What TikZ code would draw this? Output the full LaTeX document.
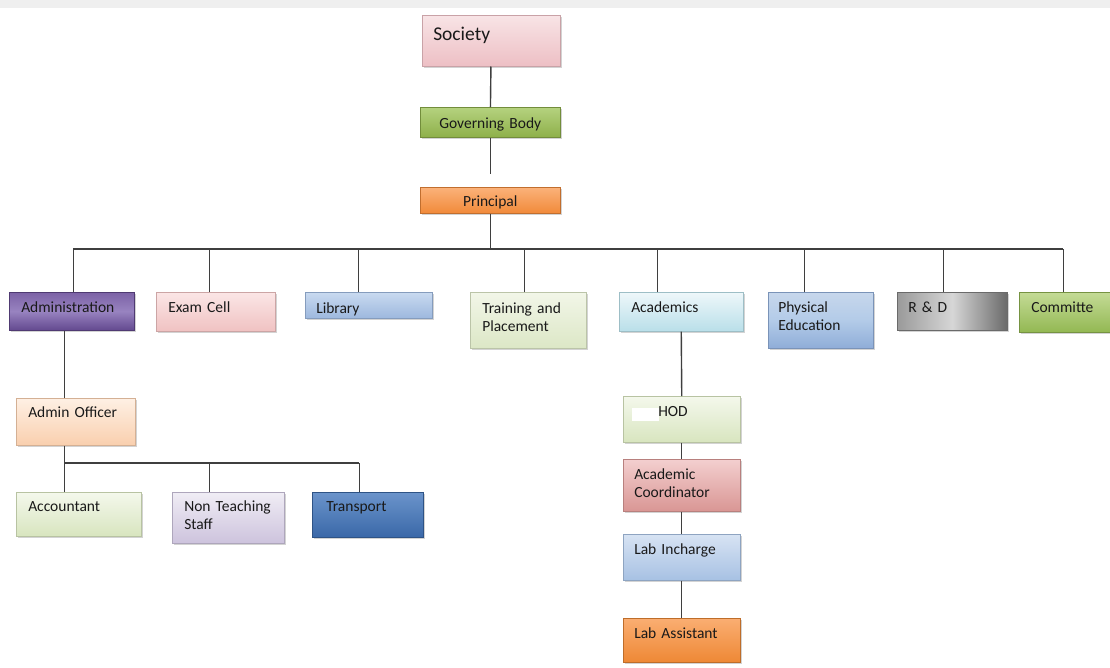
\documentclass[tikz,border=0pt]{standalone}
\usepackage{fontspec}
\setmainfont{Carlito}
\usetikzlibrary{shadows}

\definecolor{linegray}{HTML}{3F3F3F}
\definecolor{bandgray}{HTML}{EFEFEF}
\definecolor{socT}{HTML}{F8E4E6}\definecolor{socB}{HTML}{EDBFC4}
\definecolor{govT}{HTML}{B5D27F}\definecolor{govB}{HTML}{8EB04A}
\definecolor{priT}{HTML}{FBB27A}\definecolor{priB}{HTML}{F18A3A}
\definecolor{admT}{HTML}{7C62A6}\definecolor{admM}{HTML}{9883C0}\definecolor{admB}{HTML}{63498F}
\definecolor{exaT}{HTML}{FBE6E6}\definecolor{exaB}{HTML}{F0C2C2}
\definecolor{libT}{HTML}{C9DAF0}\definecolor{libB}{HTML}{9DB8DE}
\definecolor{trnT}{HTML}{F2F6E8}\definecolor{trnB}{HTML}{DCE7C6}
\definecolor{acaT}{HTML}{EEF7FA}\definecolor{acaB}{HTML}{B9DFE9}
\definecolor{phyT}{HTML}{C7D7EC}\definecolor{phyM}{HTML}{B3CBE8}\definecolor{phyB}{HTML}{8FADD8}
\definecolor{rndL}{HTML}{9A9A9A}\definecolor{rndM}{HTML}{D6D6D6}\definecolor{rndR}{HTML}{6A6A6A}
\definecolor{comT}{HTML}{C4DB96}\definecolor{comB}{HTML}{93B853}
\definecolor{aofT}{HTML}{FEF0E4}\definecolor{aofB}{HTML}{F9CFAE}
\definecolor{accT}{HTML}{F4F8EC}\definecolor{accB}{HTML}{D8E5BF}
\definecolor{ntsT}{HTML}{F0EDF5}\definecolor{ntsB}{HTML}{CDC3DD}
\definecolor{trsT}{HTML}{6B94CB}\definecolor{trsB}{HTML}{3A68A8}
\definecolor{acoT}{HTML}{F3CFCF}\definecolor{acoB}{HTML}{D99694}
\definecolor{labT}{HTML}{D7E3F3}\definecolor{labB}{HTML}{A7C1E3}
\definecolor{lasT}{HTML}{FAAE72}\definecolor{lasB}{HTML}{EE8835}

\begin{document}
\begin{tikzpicture}[x=1pt,y=-1pt,
  box/.style={anchor=north west, align=left, inner xsep=11pt, inner ysep=0pt,
    line width=.5pt, text=black!90, font=\fontsize{15.5pt}{18.5pt}\selectfont,
    drop shadow={shadow xshift=1.5pt,shadow yshift=-2pt,opacity=.35}},
  tb/.style 2 args={text height=#1pt, text depth=#2pt},
  link/.style={draw=linegray, line width=1.4pt}]
\useasboundingbox (0,0) rectangle (1110,667);
\fill[bandgray] (0,0) rectangle (1110,8);

\node[box, top color=socT, bottom color=socB, draw=socB!85!black, text width=116pt, tb={25}{26},
  font=\fontsize{19.5pt}{23pt}\selectfont] (society) at (422,15) {Society};
\node[box, align=center, top color=govT, bottom color=govB, draw=govB!80!black, text width=118pt, tb={21}{9}] (gov) at (420,107) {Governing Body};
\node[box, align=center, top color=priT, bottom color=priB, draw=priB!80!black, text width=118pt, tb={19}{7}] (principal) at (420,187) {Principal};

\node[box, top color=admT, bottom color=admB, middle color=admM, draw=admB!80!black, inner xsep=12pt, text width=101pt, tb={20}{18}] (admin) at (9,292) {Administration};
\node[box, top color=exaT, bottom color=exaB, draw=exaB!85!black, inner xsep=12pt, text width=95pt, tb={20}{19}] (exam) at (156,292) {Exam Cell};
\node[box, top color=libT, bottom color=libB, draw=libB!85!black, text width=105pt, tb={21}{5}] (lib) at (305,292) {Library};
\node[box, top color=trnT, bottom color=trnB, draw=trnB!85!black, inner xsep=12pt, text width=92pt, tb={21}{35}] (train) at (470,292) {Training and\\Placement};
\node[box, top color=acaT, bottom color=acaB, draw=acaB!85!black, inner xsep=12pt, text width=100pt, tb={20}{19}] (acad) at (619,292) {Academics};
\node[box, top color=phyT, bottom color=phyB, middle color=phyM, draw=phyB!85!black, inner xsep=10pt, text width=85pt, tb={20}{36}] (phys) at (768,292) {Physical\\Education};
\node[box, left color=rndL, right color=rndR, middle color=rndM, draw=rndR, text width=88pt, tb={20}{18}] (rnd) at (897,292) {R \& D};
\node[box, top color=comT, bottom color=comB, draw=comB!80!black, inner xsep=12pt, text width=67pt, tb={20}{20}] (comm) at (1019,292) {Committe};

\node[box, top color=aofT, bottom color=aofB, draw=aofB!85!black, inner xsep=12pt, text width=95pt, tb={19}{28}] (aoff) at (16,398) {Admin Officer};
\node[box, top color=accT, bottom color=accB, draw=accB!85!black, inner xsep=12pt, text width=101pt, tb={19}{25}] (acct) at (16,492) {Accountant};
\node[box, top color=ntsT, bottom color=ntsB, draw=ntsB!85!black, inner xsep=12pt, text width=88pt, tb={19}{32}] (nonteach) at (172,492) {Non Teaching\\Staff};
\node[box, top color=trsT, bottom color=trsB, draw=trsB!80!black, inner xsep=14pt, text width=83pt, tb={19}{26}] (transport) at (312,492) {Transport};

\node[box, top color=accT, bottom color=accB, draw=accB!85!black, inner xsep=35pt, text width=47pt, tb={20}{26}] (hod) at (623,396) {HOD};
\node[box, top color=acoT, bottom color=acoB, draw=acoB!85!black, text width=95pt, tb={20}{32}] (acoord) at (623,459) {Academic\\Coordinator};
\node[box, top color=labT, bottom color=labB, draw=labB!85!black, text width=95pt, tb={20}{26}] (labin) at (623,534) {Lab Incharge};
\node[box, top color=lasT, bottom color=lasB, draw=lasB!80!black, text width=95pt, tb={20}{24}] (labas) at (623,618) {Lab Assistant};
\fill[white] (632,408) rectangle (659,421);

\coordinate (bus) at (490,249);
\coordinate (subbus) at (64,463);
\draw[link] (society) -- (gov);
\draw[link] (gov.south) -- ++(0,36);
\draw[link] (principal.south) -- (principal.south |- bus);
\draw[link] ([xshift=1.5pt]admin.north |- bus) -- ([xshift=-1.5pt]comm.north |- bus);
\foreach \n/\dx in {admin/1.5,exam/-6.5,lib/-10.5,train/-4,acad/-24,phys/-16.5,rnd/-9,comm/-1.5}
  \draw[link] ([xshift=\dx pt]\n.north) -- ([xshift=\dx pt]\n.north |- bus);

\draw[link] ([xshift=-7.5pt]admin.south) -- ([xshift=-7.5pt]admin.south |- aoff.north);
\draw[link] ([xshift=-11.5pt]aoff.south) -- ([xshift=-11.5pt]aoff.south |- acct.north);
\draw[link] (subbus) -- ([xshift=-8.5pt]transport.north |- subbus);
\draw[link] ([xshift=-19pt]nonteach.north) -- ([xshift=-19pt]nonteach.north |- subbus);
\draw[link] ([xshift=-8.5pt]transport.north) -- ([xshift=-8.5pt]transport.north |- subbus);

\draw[link] (acad.south) -- (hod.north);
\draw[link] (hod.south) -- (acoord.north);
\draw[link] (acoord.south) -- (labin.north);
\draw[link] (labin.south) -- (labas.north);
\end{tikzpicture}
\end{document}
